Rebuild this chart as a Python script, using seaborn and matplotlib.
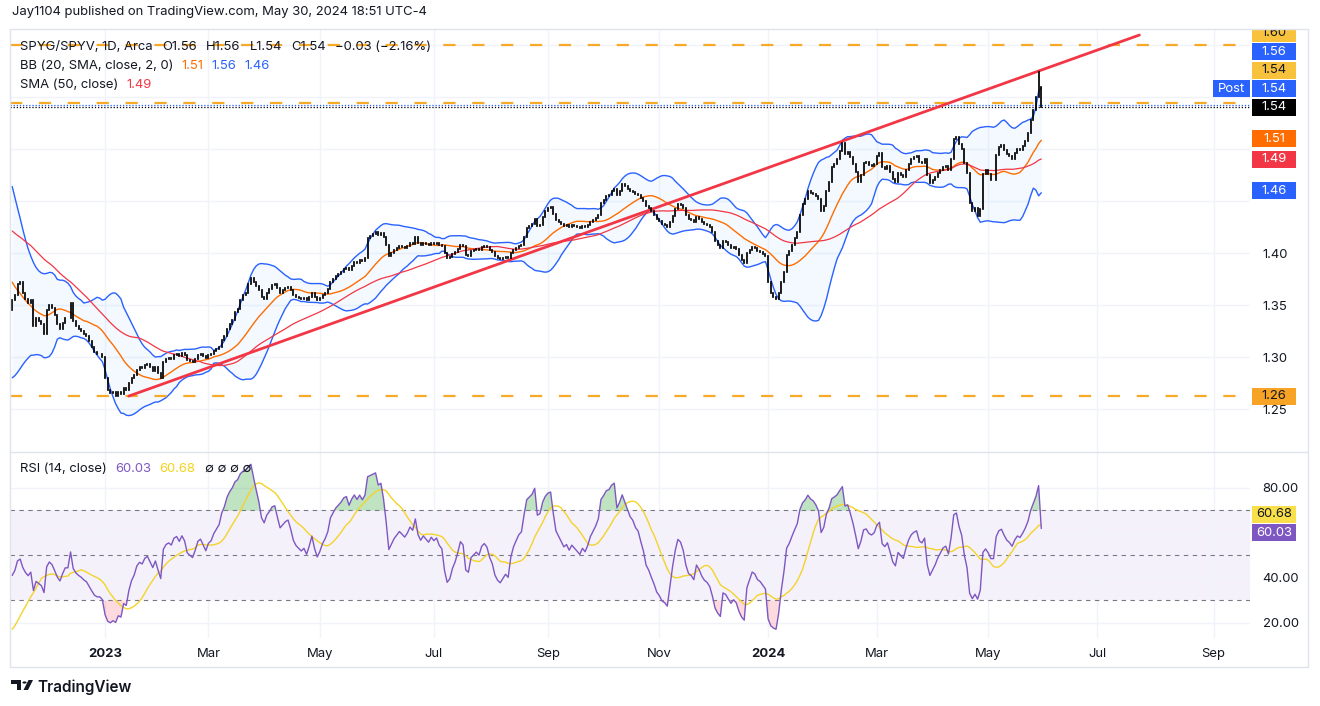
import numpy as np
import pandas as pd
import matplotlib
matplotlib.use("Agg")
import matplotlib.pyplot as plt
import seaborn as sns
from matplotlib.patches import Rectangle, Circle, Polygon
from matplotlib.lines import Line2D
from pandas.tseries.offsets import CustomBusinessDay

# ---------------------------------------------------------------- data
start_date = "2022-11-10"
market_holidays = ["2022-11-24", "2022-12-26", "2023-01-02", "2023-01-16", "2023-02-20",
                   "2023-04-07", "2023-05-29", "2023-06-19", "2023-07-04", "2023-09-04",
                   "2023-11-23", "2023-12-25", "2024-01-01", "2024-01-15", "2024-02-19",
                   "2024-03-29", "2024-05-27", "2024-06-19", "2024-07-04", "2024-09-02"]
future_bars = 80

# closes before the visible window (only feed the indicators)
warmup_closes = [1.470, 1.470, 1.460, 1.465, 1.460, 1.455, 1.450, 1.460, 1.465, 1.470,
                 1.460, 1.455, 1.450, 1.445, 1.450, 1.455, 1.460, 1.455, 1.450, 1.445,
                 1.440, 1.445, 1.450, 1.455, 1.450, 1.445, 1.440, 1.445, 1.450, 1.450,
                 1.445, 1.440, 1.435, 1.430, 1.420, 1.410, 1.400, 1.390, 1.380, 1.370,
                 1.360, 1.350, 1.340, 1.330, 1.315, 1.305, 1.300, 1.320, 1.345]

# SPYG/SPYV daily closes, 2022-11-10 .. 2024-05-30
closes = [
    1.355, 1.360, 1.370, 1.372, 1.362, 1.356, 1.352, 1.355, 1.330, 1.338,
    1.335, 1.332, 1.322, 1.345, 1.350, 1.347, 1.340, 1.332, 1.327, 1.333,
    1.338, 1.338, 1.352, 1.335, 1.330, 1.327, 1.325, 1.322, 1.320, 1.315,
    1.310, 1.305, 1.303, 1.303, 1.300, 1.280, 1.268, 1.265, 1.266, 1.263,
    1.266, 1.264, 1.270, 1.268, 1.275, 1.280, 1.283, 1.288, 1.290, 1.289,
    1.292, 1.293, 1.290, 1.287, 1.290, 1.285, 1.280, 1.295, 1.298, 1.299,
    1.298, 1.302, 1.303, 1.301, 1.304, 1.302, 1.297, 1.296, 1.295, 1.298,
    1.302, 1.303, 1.301, 1.299, 1.302, 1.303, 1.306, 1.308, 1.310, 1.316,
    1.320, 1.327, 1.332, 1.336, 1.343, 1.346, 1.355, 1.360, 1.362, 1.370,
    1.376, 1.372, 1.368, 1.364, 1.358, 1.356, 1.362, 1.365, 1.369, 1.370,
    1.366, 1.362, 1.364, 1.366, 1.367, 1.364, 1.360, 1.358, 1.357, 1.356,
    1.357, 1.355, 1.358, 1.362, 1.358, 1.355, 1.357, 1.360, 1.362, 1.365,
    1.372, 1.375, 1.378, 1.380, 1.382, 1.385, 1.386, 1.384, 1.388, 1.391,
    1.390, 1.393, 1.392, 1.395, 1.414, 1.416, 1.418, 1.420, 1.417, 1.419,
    1.415, 1.408, 1.397, 1.400, 1.403, 1.405, 1.407, 1.406, 1.405, 1.407,
    1.410, 1.409, 1.415, 1.410, 1.408, 1.410, 1.409, 1.408, 1.410, 1.409,
    1.410, 1.408, 1.407, 1.400, 1.395, 1.396, 1.399, 1.401, 1.404, 1.408,
    1.407, 1.398, 1.397, 1.402, 1.403, 1.404, 1.403, 1.406, 1.407, 1.406,
    1.403, 1.401, 1.397, 1.395, 1.394, 1.395, 1.396, 1.395, 1.400, 1.403,
    1.405, 1.407, 1.408, 1.415, 1.424, 1.426, 1.428, 1.433, 1.426, 1.427,
    1.435, 1.440, 1.443, 1.444, 1.438, 1.432, 1.430, 1.428, 1.426, 1.427,
    1.425, 1.427, 1.426, 1.425, 1.424, 1.426, 1.425, 1.427, 1.430, 1.432,
    1.434, 1.437, 1.448, 1.451, 1.455, 1.456, 1.460, 1.462, 1.456, 1.460,
    1.466, 1.464, 1.462, 1.460, 1.459, 1.457, 1.456, 1.453, 1.450, 1.445,
    1.443, 1.440, 1.437, 1.433, 1.431, 1.428, 1.427, 1.425, 1.430, 1.436,
    1.442, 1.447, 1.446, 1.443, 1.437, 1.433, 1.432, 1.430, 1.435, 1.433,
    1.430, 1.428, 1.427, 1.425, 1.420, 1.412, 1.408, 1.405, 1.412, 1.411,
    1.408, 1.405, 1.406, 1.404, 1.398, 1.393, 1.390, 1.400, 1.403, 1.406,
    1.405, 1.402, 1.401, 1.399, 1.397, 1.372, 1.362, 1.358, 1.356, 1.362,
    1.372, 1.382, 1.398, 1.402, 1.408, 1.414, 1.420, 1.437, 1.447, 1.452,
    1.460, 1.458, 1.457, 1.455, 1.452, 1.440, 1.445, 1.460, 1.468, 1.483,
    1.486, 1.490, 1.498, 1.506, 1.495, 1.497, 1.492, 1.486, 1.478, 1.468,
    1.475, 1.487, 1.488, 1.485, 1.484, 1.486, 1.493, 1.496, 1.483, 1.481,
    1.484, 1.478, 1.471, 1.468, 1.477, 1.475, 1.473, 1.480, 1.486, 1.490,
    1.492, 1.493, 1.488, 1.487, 1.490, 1.475, 1.467, 1.470, 1.473, 1.477,
    1.480, 1.483, 1.484, 1.480, 1.490, 1.510, 1.512, 1.505, 1.500, 1.487,
    1.477, 1.448, 1.440, 1.443, 1.436, 1.442, 1.476, 1.480, 1.476, 1.470,
    1.470, 1.494, 1.502, 1.504, 1.499, 1.495, 1.493, 1.490, 1.496, 1.500,
    1.499, 1.503, 1.508, 1.515, 1.528, 1.538, 1.550, 1.574, 1.540,
]
last_bar_open = 1.56
post_price = 1.542

# drawn objects
trend_bars = [44, 425]
trend_prices = [1.2625, 1.6096]
hline_levels = [1.600, 1.544, 1.2625]

# legend values shown by TradingView
bb_values = [1.51, 1.56, 1.46]     # basis, upper, lower
sma_value = 1.49
rsi_values = [60.03, 60.68]        # RSI, RSI-MA

price_ticks = [1.25, 1.30, 1.35, 1.40, 1.45, 1.50, 1.55, 1.60]
rsi_ticks = [20, 40, 60, 80]
month_starts = ["2023-01-01", "2023-03-01", "2023-05-01", "2023-07-01", "2023-09-01",
                "2023-11-01", "2024-01-01", "2024-03-01", "2024-05-01", "2024-07-01",
                "2024-09-01"]
month_labels = ["2023", "Mar", "May", "Jul", "Sep", "Nov", "2024", "Mar", "May", "Jul", "Sep"]

# ---------------------------------------------------------------- indicators
n_w = len(warmup_closes)
s = pd.Series(np.array(warmup_closes + closes, dtype=float))
bb_mid = s.rolling(20).mean()
bb_sd = s.rolling(20).std(ddof=0)
bb_up = bb_mid + 2 * bb_sd
bb_lo = bb_mid - 2 * bb_sd
sma50 = s.rolling(50).mean()
delta = s.diff()
gain = delta.clip(lower=0).ewm(alpha=1 / 14, adjust=False).mean()
loss = (-delta.clip(upper=0)).ewm(alpha=1 / 14, adjust=False).mean()
rsi = 100 - 100 / (1 + gain / loss)
rsi_ma = rsi.rolling(14).mean()

idx = np.arange(len(closes))
cl = np.array(closes)
op = s.shift(1).values[n_w:].copy()
op[-1] = last_bar_open
v_mid, v_up, v_lo = bb_mid.values[n_w:], bb_up.values[n_w:], bb_lo.values[n_w:]
v_sma = sma50.values[n_w:]
v_rsi, v_rsima = rsi.values[n_w:], rsi_ma.values[n_w:]

dates = pd.date_range(start=start_date, periods=len(closes) + future_bars,
                      freq=CustomBusinessDay(holidays=market_holidays))
month_pos = [int(np.searchsorted(dates.values, np.datetime64(m))) for m in month_starts]

# ---------------------------------------------------------------- style
sns.set_theme(style="white")
FONT = ["Inter", "DejaVu Sans"]
plt.rcParams["font.family"] = FONT
FS = 9.4
TXT = "#131722"
BLUE, ORANGE, RED, PURPLE, YELLOW = "#2962ff", "#ff6d00", "#f23645", "#7e57c2", "#f5d32a"
HL = "#f7a928"
GRID = "#f0f3fa"
FRAME = "#e0e3eb"

W, H = 1320, 706
fig = plt.figure(figsize=(W / 100, H / 100), dpi=100)
fig.patch.set_facecolor("white")


def fx(px):
    return px / W


def fy(py):
    return 1 - py / H


PL, PR = 10, 1250
MT, MB = 29, 452
RT, RB = 452, 638
ax = fig.add_axes([fx(PL), fy(MB), (PR - PL) / W, (MB - MT) / H])
axr = fig.add_axes([fx(PL), fy(RB), (PR - PL) / W, (RB - RT) / H])

x_lim = (-0.83, 466.7)
for a in (ax, axr):
    a.set_xlim(*x_lim)
    a.set_facecolor("white")
    for sp in a.spines.values():
        sp.set_visible(False)
ax.set_ylim(1.2087, 1.6154)
axr.set_ylim(13.33, 96.0)

# grids
ax.set_xticks(month_pos)
ax.set_yticks(price_ticks)
ax.grid(True, color=GRID, lw=1)
ax.tick_params(axis="x", labelbottom=False, length=0)
ax.yaxis.tick_right()
ax.set_yticklabels([f"{t:.2f}" for t in price_ticks])
ax.tick_params(axis="y", length=0, pad=9, labelsize=FS, labelcolor=TXT)

axr.set_xticks(month_pos)
axr.set_xticklabels(month_labels)
axr.set_yticks(rsi_ticks)
axr.grid(True, color=GRID, lw=1)
axr.yaxis.tick_right()
axr.set_yticklabels([f"{t:.2f}" for t in rsi_ticks])
axr.tick_params(axis="y", length=0, pad=9, labelsize=FS, labelcolor=TXT)
axr.tick_params(axis="x", length=0, pad=7, labelsize=FS, labelcolor=TXT)
for lab in axr.get_xticklabels():
    if lab.get_text().isdigit():
        lab.set_fontweight("bold")

# ---------------------------------------------------------------- main pane
ax.fill_between(idx, v_lo, v_up, color="#2196f3", alpha=0.05, lw=0, zorder=1)
sns.lineplot(x=idx, y=v_up, ax=ax, color=BLUE, lw=1.0, sort=False, zorder=2)
sns.lineplot(x=idx, y=v_lo, ax=ax, color=BLUE, lw=1.0, sort=False, zorder=2)
sns.lineplot(x=idx, y=v_mid, ax=ax, color=ORANGE, lw=1.0, sort=False, zorder=2)
sns.lineplot(x=idx, y=v_sma, ax=ax, color=RED, lw=0.9, sort=False, zorder=2)

for lv in hline_levels:
    ax.axhline(lv, color=HL, lw=1.6, linestyle=(0, (5.5, 7.5)), zorder=2)
ax.axhline(post_price, color=BLUE, lw=0.9, linestyle=(0, (1, 1.5)), zorder=2)
ax.axhline(closes[-1], color="#000000", lw=0.9, linestyle=(0, (1, 1.5)), zorder=2)

sns.lineplot(x=trend_bars, y=trend_prices, ax=ax, color=RED, lw=2.0, sort=False, zorder=3)

lo = np.minimum(op, cl)
hi = np.maximum(op, cl)
ax.vlines(idx, lo, hi, colors="#000000", lw=1.25, capstyle="projecting", zorder=4)
ax.set_xlabel("")
ax.set_ylabel("")

# ---------------------------------------------------------------- RSI pane
axr.axhspan(30, 70, color=PURPLE, alpha=0.08, lw=0, zorder=0)
for lv in (70, 50, 30):
    axr.axhline(lv, color="#787b86", lw=0.8, linestyle=(0, (4, 4)), zorder=1)
axr.fill_between(idx, 70, v_rsi, where=v_rsi > 70, interpolate=True,
                 color="#4caf50", alpha=0.35, lw=0, zorder=1)
axr.fill_between(idx, 30, v_rsi, where=v_rsi < 30, interpolate=True,
                 color=RED, alpha=0.18, lw=0, zorder=1)
sns.lineplot(x=idx, y=v_rsima, ax=axr, color=YELLOW, lw=1.0, sort=False, zorder=2)
sns.lineplot(x=idx, y=v_rsi, ax=axr, color=PURPLE, lw=1.0, sort=False, zorder=3)
axr.set_xlabel("")
axr.set_ylabel("")


# ---------------------------------------------------------------- frame
def fline(x0, y0, x1, y1):
    fig.add_artist(Line2D([fx(x0), fx(x1)], [fy(y0), fy(y1)], transform=fig.transFigure,
                          color=FRAME, lw=1, zorder=20))


# ---------------------------------------------------------------- right scale labels
def ypix(axis, v):
    return H - axis.transData.transform((0, v))[1]


def stack(axis, items, gap=18.5):
    res = [(ypix(axis, v), t, bg, fg, tag) for v, t, bg, fg, tag in items]
    res.sort(key=lambda r: -r[0])
    out, prev = [], None
    for yp, t, bg, fg, tag in res:
        y = yp if prev is None else min(yp, prev - gap)
        out.append((y, t, bg, fg, tag))
        prev = y
    return out


def box(ypx, text, bg, fg, x0=1252, x1=1296, h=17):
    fig.add_artist(Rectangle((fx(x0), fy(ypx + h / 2)), (x1 - x0) / W, h / H,
                             transform=fig.transFigure, facecolor=bg, edgecolor="none", zorder=10))
    fig.text(fx((x0 + x1) / 2), fy(ypx), text, ha="center", va="center", color=fg,
             fontsize=FS, zorder=11)


def hide_covered(axis, ticks, box_ys, thr=11):
    for lab, t in zip(axis.get_yticklabels(), ticks):
        yp = ypix(axis, t)
        if any(abs(yp - by) < thr for by in box_ys):
            lab.set_visible(False)


price_items = [
    (closes[-1], f"{closes[-1]:.2f}", "#000000", "white", "last"),
    (post_price, f"{post_price:.2f}", BLUE, "white", "post"),
    (hline_levels[1], f"{hline_levels[1]:.2f}", "#f9c23c", TXT, "hl1"),
    (bb_values[1], f"{bb_values[1]:.2f}", BLUE, "white", "bbu"),
    (hline_levels[0], f"{hline_levels[0]:.2f}", "#f9c23c", TXT, "hl0"),
    (bb_values[0], f"{bb_values[0]:.2f}", ORANGE, "white", "bbm"),
    (sma_value, f"{sma_value:.2f}", RED, "white", "sma"),
    (bb_values[2], f"{bb_values[2]:.2f}", BLUE, "white", "bbl"),
    (hline_levels[2], f"{hline_levels[2]:.2f}", "#f7a325", TXT, "hl2"),
]
placed = stack(ax, price_items)
for y, t, bg, fg, tag in placed:
    box(y, t, bg, fg)
    if tag == "post":
        box(y, "Post", BLUE, "white", x0=1213, x1=1250)
hide_covered(ax, price_ticks, [p[0] for p in placed])

rsi_items = [(rsi_values[0], f"{rsi_values[0]:.2f}", PURPLE, "white", "rsi"),
             (rsi_values[1], f"{rsi_values[1]:.2f}", "#f9e04b", TXT, "rsima")]
rsi_placed = stack(axr, rsi_items)
for y, t, bg, fg, tag in rsi_placed:
    box(y, t, bg, fg)
hide_covered(axr, rsi_ticks, [p[0] for p in rsi_placed])

# cover label overflow above the chart frame
fig.add_artist(Rectangle((fx(1200), fy(MT)), fx(120), MT / H, transform=fig.transFigure,
                         facecolor="white", edgecolor="none", zorder=15))

fline(PL, MT, 1308, MT)
fline(PL, 667, 1308, 667)
fline(PL, MT, PL, 667)
fline(1308, MT, 1308, 667)
fline(PL, MB, 1308, MB)

# ---------------------------------------------------------------- texts
renderer = fig.canvas.get_renderer()


def chain(x, y, pieces, size=FS):
    for txt, col, gap in pieces:
        t = fig.text(fx(x), fy(y), txt, color=col, fontsize=size, va="center", ha="left", zorder=12)
        x = x + t.get_window_extent(renderer).width + gap


fig.text(fx(12), fy(12), "Jay1104 published on TradingView.com, May 30, 2024 18:51 UTC-4",
         color=TXT, fontsize=FS, va="center", ha="left")

chain(20, 47, [("SPYG/SPYV, 1D, Arca", TXT, 10), ("O1.56", TXT, 9), ("H1.56", TXT, 9),
               ("L1.54", TXT, 9), ("C1.54", TXT, 9), ("\u22120.03 (\u22122.16%)", TXT, 0)])
chain(20, 66, [("BB (20, SMA, close, 2, 0)", TXT, 8), (f"{bb_values[0]:.2f}", ORANGE, 8),
               (f"{bb_values[1]:.2f}", BLUE, 8), (f"{bb_values[2]:.2f}", BLUE, 0)])
chain(20, 85, [("SMA (50, close)", TXT, 8), (f"{sma_value:.2f}", RED, 0)])
chain(20, 469, [("RSI (14, close)", TXT, 8), (f"{rsi_values[0]:.2f}", PURPLE, 8),
                (f"{rsi_values[1]:.2f}", "#f2d31b", 10), ("\u2205 \u2205 \u2205 \u2205", TXT, 0)])

# TradingView footer logo
K = "#131722"
fig.add_artist(Polygon([[fx(11), fy(680)], [fx(21), fy(680)], [fx(21), fy(690)],
                        [fx(16.5), fy(690)], [fx(16.5), fy(684)], [fx(11), fy(684)]],
                       closed=True, transform=fig.transFigure, facecolor=K, edgecolor="none"))
fig.add_artist(Circle((fx(24.5), fy(682.5)), 2.1 / W, transform=fig.transFigure,
                      facecolor=K, edgecolor="none"))
fig.add_artist(Polygon([[fx(23.5), fy(690)], [fx(28.5), fy(680)], [fx(33), fy(680)],
                        [fx(28), fy(690)]], closed=True, transform=fig.transFigure,
                       facecolor=K, edgecolor="none"))
fig.text(fx(37), fy(687), "TradingView", color=K, fontsize=11, fontweight="semibold",
         va="center", ha="left")

fig.savefig("out.png", dpi=100, facecolor="white")
